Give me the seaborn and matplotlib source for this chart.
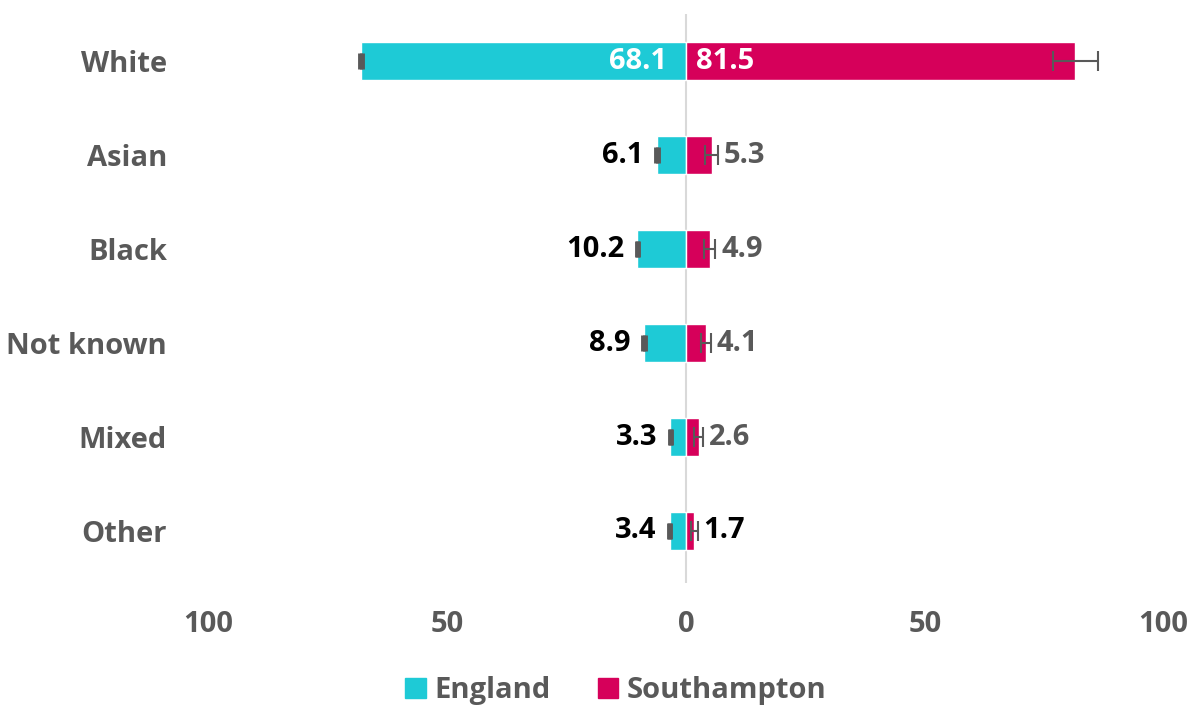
import pandas as pd
import seaborn as sns
import matplotlib.pyplot as plt
from matplotlib.patches import Patch

categories = ['White', 'Asian', 'Black', 'Not known', 'Mixed', 'Other']
england = [68.1, 6.1, 10.2, 8.9, 3.3, 3.4]
southampton = [81.5, 5.3, 4.9, 4.1, 2.6, 1.7]
england_err = [0.3, 0.2, 0.2, 0.2, 0.1, 0.1]
southampton_err = [4.7, 1.3, 1.2, 1.1, 0.9, 0.7]
tick_values = [-100, -50, 0, 50, 100]
tick_labels = ['100', '50', '0', '50', '100']

teal = '#1ECAD6'
crimson = '#D6005A'
grey = '#595959'

sns.set_theme(style='white')
plt.rcParams['font.family'] = ['Open Sans', 'DejaVu Sans']

df = pd.DataFrame({'Ethnicity': categories,
                   'England': [-v for v in england],
                   'Southampton': southampton})

fig, ax = plt.subplots(figsize=(11.96, 7.08), dpi=100)
fig.subplots_adjust(left=0.1745, right=0.973, top=0.980, bottom=0.177)

sns.barplot(data=df, y='Ethnicity', x='England', color=teal, orient='h',
            width=0.4, ax=ax, saturation=1)
sns.barplot(data=df, y='Ethnicity', x='Southampton', color=crimson, orient='h',
            width=0.4, ax=ax, saturation=1)

ypos = range(len(categories))
ax.errorbar(df['England'], ypos, xerr=england_err, fmt='none', ecolor=grey,
            elinewidth=1.5, capsize=6, capthick=3.5)
ax.errorbar(df['Southampton'], ypos, xerr=southampton_err, fmt='none', ecolor=grey,
            elinewidth=1.5, capsize=7, capthick=1.5)

ax.axvline(0, color='#D9D9D9', lw=1.5, zorder=0)

for i, (e, s, ee, se) in enumerate(zip(england, southampton, england_err, southampton_err)):
    if e > 30:
        ax.text(-4, i, f'{e:.1f}', ha='right', va='center', color='white',
                fontsize=21, fontweight='bold')
    else:
        ax.text(-e - 2.8, i, f'{e:.1f}', ha='right', va='center', color='black',
                fontsize=21, fontweight='bold')
    if s > 30:
        ax.text(2, i, f'{s:.1f}', ha='left', va='center', color='white',
                fontsize=21, fontweight='bold')
    else:
        c = 'black' if s < 2 else grey
        ax.text(s + se + 1.2, i, f'{s:.1f}', ha='left', va='center', color=c,
                fontsize=21, fontweight='bold')

ax.set_xlim(-100, 100)
ax.set_ylim(5.55, -0.5)
ax.set_xticks(tick_values)
ax.set_xticklabels(tick_labels)
ax.set_xlabel('')
ax.set_ylabel('')
ax.tick_params(axis='x', labelsize=21, labelcolor=grey, length=0, pad=20)
ax.tick_params(axis='y', labelsize=21, labelcolor=grey, length=0, pad=30)
for lab in ax.get_xticklabels() + ax.get_yticklabels():
    lab.set_fontweight('bold')
sns.despine(ax=ax, left=True, bottom=True)

handles = [Patch(color=teal, label='England'), Patch(color=crimson, label='Southampton')]
leg = fig.legend(handles=handles, loc='lower center', ncol=2, frameon=False,
                 bbox_to_anchor=(0.515, -0.033), handlelength=0.7, handleheight=0.7,
                 handletextpad=0.3, columnspacing=1.6,
                 prop={'size': 21, 'weight': 'bold'})
for t in leg.get_texts():
    t.set_color(grey)

fig.savefig('out.png', dpi=100)
